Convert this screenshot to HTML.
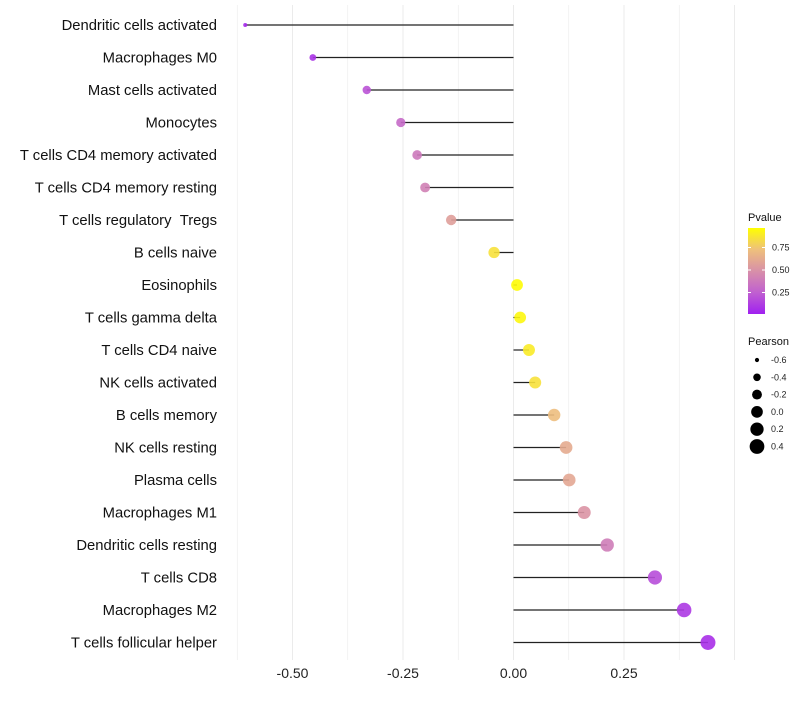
<!DOCTYPE html>
<html><head><meta charset="utf-8"><style>
body{margin:0;background:#fff;font-family:"Liberation Sans",sans-serif}
</style></head><body>
<svg id="chart" width="800" height="700" xmlns="http://www.w3.org/2000/svg" font-family="Liberation Sans, sans-serif"></svg>
<script>
const categories=["Dendritic cells activated","Macrophages M0","Mast cells activated","Monocytes","T cells CD4 memory activated","T cells CD4 memory resting","T cells regulatory \u00a0Tregs","B cells naive","Eosinophils","T cells gamma delta","T cells CD4 naive","NK cells activated","B cells memory","NK cells resting","Plasma cells","Macrophages M1","Dendritic cells resting","T cells CD8","Macrophages M2","T cells follicular helper"];
const pearson=[-0.607,-0.454,-0.332,-0.255,-0.218,-0.200,-0.141,-0.044,0.008,0.015,0.035,0.049,0.092,0.119,0.126,0.160,0.212,0.320,0.386,0.440];
const pvalue=[0.04,0.08,0.2,0.3,0.38,0.42,0.58,0.88,0.99,0.97,0.92,0.88,0.74,0.64,0.62,0.52,0.4,0.18,0.1,0.06];
const xTicks=[-0.5,-0.25,0,0.25];
const xTickLabels=["-0.50","-0.25","0.00","0.25"];
const pTicks=[0.25,0.5,0.75];
const sizeTicks=[-0.6,-0.4,-0.2,0.0,0.2,0.4];
const NS="http://www.w3.org/2000/svg";
const svg=document.getElementById('chart');
function mk(t,a,p){const e=document.createElementNS(NS,t);for(const k in a)e.setAttribute(k,a[k]);(p||svg).appendChild(e);return e;}
const x=v=>513.5+v*442;
const y=i=>25+i*32.5;
const rr=v=>Math.sqrt(4+(v+0.607)/(1.047)*52);
const stops=[[0,[160,32,240]],[0.25,[192,96,208]],[0.5,[216,144,168]],[0.75,[238,192,124]],[1,[255,255,0]]];
function col(p){for(let i=1;i<stops.length;i++){if(p<=stops[i][0]){const a=stops[i-1],b=stops[i];const t=(p-a[0])/(b[0]-a[0]);return 'rgb('+a[1].map((c,j)=>Math.round(c+(b[1][j]-c)*t)).join(',')+')';}}return 'rgb(255,255,0)';}
for(let v=-0.625;v<=0.5;v+=0.125){const g=mk('line',{x1:x(v),x2:x(v),y1:5,y2:660,stroke:'#ebebeb','stroke-width':Math.abs(v*4-Math.round(v*4))<1e-6?1:0.6});
}
xTicks.forEach((v,i)=>{const t=mk('text',{x:x(v),y:678,'font-size':14,'text-anchor':'middle',fill:'#222'});t.textContent=xTickLabels[i];
});
categories.forEach((c,i)=>{
const t=mk('text',{x:217,y:y(i)+5,'font-size':14.8,'text-anchor':'end',fill:'#111'});t.textContent=c;

const l=mk('line',{x1:x(0),x2:x(pearson[i]),y1:y(i),y2:y(i),stroke:'#222','stroke-width':1.2});

const d=mk('circle',{cx:x(pearson[i]),cy:y(i),r:rr(pearson[i]),fill:col(pvalue[i]),'fill-opacity':0.9});

});
const defs=mk('defs',{});const lg=mk('linearGradient',{id:'pg',x1:0,y1:1,x2:0,y2:0},defs);
stops.forEach(s=>mk('stop',{offset:s[0],'stop-color':'rgb('+s[1].join(',')+')'},lg));
let t=mk('text',{x:748,y:221,'font-size':11,fill:'#111'});t.textContent='Pvalue';
const bar=mk('rect',{x:748,y:228,width:17,height:86,fill:'url(#pg)'});
const py=p=>315-p*90;
pTicks.forEach(p=>{mk('line',{x1:748,x2:751,y1:py(p),y2:py(p),stroke:'#fff'});mk('line',{x1:762,x2:765,y1:py(p),y2:py(p),stroke:'#fff'});
const tt=mk('text',{x:772,y:py(p)+3,'font-size':9,fill:'#222'});tt.textContent=p.toFixed(2);});
t=mk('text',{x:748,y:345,'font-size':11,fill:'#111'});t.textContent='Pearson';
sizeTicks.forEach((v,i)=>{const cy=360+i*17.3;
const c=mk('circle',{cx:757,cy:cy,r:rr(v),fill:'#000'});
const tt=mk('text',{x:771,y:cy+3,'font-size':9,fill:'#222'});tt.textContent=v.toFixed(1);});
</script>
</body></html>
